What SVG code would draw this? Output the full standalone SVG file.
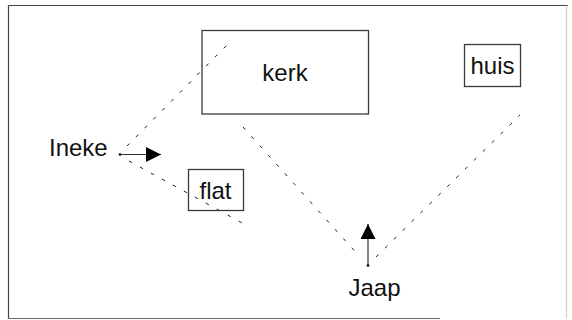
<svg xmlns="http://www.w3.org/2000/svg" width="572" height="320" viewBox="0 0 572 320">
  <style>
    .box { fill: none; stroke: #3a3a3a; stroke-width: 1.3; }
    .label { font-family: "Liberation Sans", Arial, sans-serif; font-size: 24px; fill: #111; }
    .sight { fill: none; stroke: #222; stroke-width: 1; stroke-dasharray: 3.5 9; }
    .dir { fill: none; stroke: #333; stroke-width: 1.2; }
    .frame { stroke-width: 1.2; fill: none; }
  </style>
  <defs>
    <marker id="head" viewBox="0 0 10 10" refX="10" refY="5" markerWidth="15" markerHeight="15" markerUnits="userSpaceOnUse" orient="auto">
      <path d="M0,0 L10,5 L0,10 z" fill="#000"/>
    </marker>
  </defs>

  <!-- outer frame -->
  <g id="frame">
    <line class="frame" x1="8.5" y1="5.5" x2="568" y2="5.5" stroke="#444"/>
    <line class="frame" x1="8.5" y1="5.5" x2="8.5" y2="318.5" stroke="#444"/>
    <line class="frame" x1="8.5" y1="318.5" x2="440" y2="318.5" stroke="#666"/>
    <line class="frame" x1="566.5" y1="5.5" x2="566.5" y2="318.5" stroke="#ccc"/>
  </g>

  <!-- sight lines and facing arrows -->
  <g id="connectors">
    <line class="sight" x1="127" y1="146" x2="229" y2="43"/>
    <line class="sight" x1="129" y1="161" x2="244" y2="224"/>
    <line class="sight" x1="243" y1="127" x2="360" y2="257"/>
    <line class="sight" x1="376" y1="257" x2="520" y2="115"/>
    <line class="dir" x1="120" y1="154.5" x2="161" y2="154.5" marker-end="url(#head)"/>
    <line class="dir" x1="368" y1="265.5" x2="368" y2="224" marker-end="url(#head)"/>
    <circle cx="120" cy="154.5" r="1.3" fill="#000"/>
    <circle cx="368" cy="265.5" r="1.3" fill="#000"/>
  </g>

  <g id="kerk">
    <rect class="box" x="202" y="30.5" width="166.5" height="83.5"/>
    <text class="label" x="285" y="81" text-anchor="middle">kerk</text>
  </g>

  <g id="huis">
    <rect class="box" x="464.5" y="44.5" width="56" height="42"/>
    <text class="label" x="492.5" y="73.5" text-anchor="middle">huis</text>
  </g>

  <g id="flat">
    <rect class="box" x="188.5" y="169.5" width="55" height="41"/>
    <text class="label" x="215.5" y="199" text-anchor="middle">flat</text>
  </g>

  <g id="ineke">
    <text class="label" x="49" y="156">Ineke</text>
  </g>

  <g id="jaap">
    <text class="label" x="374.5" y="296" text-anchor="middle">Jaap</text>
  </g>
</svg>
